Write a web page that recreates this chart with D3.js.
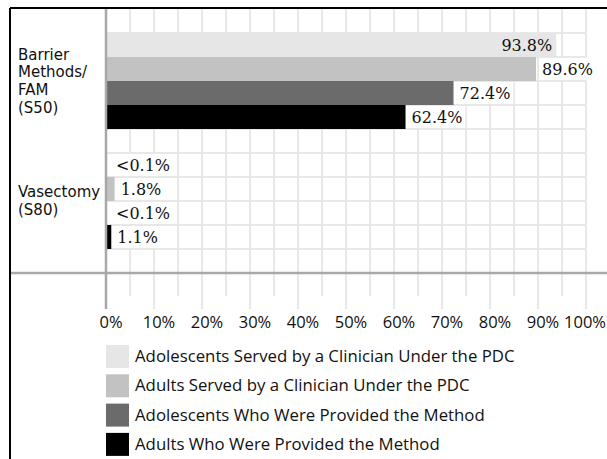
<!DOCTYPE html>
<html>
<head>
<meta charset="utf-8">
<script src="https://cdn.jsdelivr.net/npm/d3@7/dist/d3.min.js"></script>
<style>
  body { margin: 0; background: #fff; }
  svg { display: block; }
  .cat { font-family: "DejaVu Sans", sans-serif; font-size: 15px; fill: #111; }
  .tick-label { font-family: "Open Sans", Lato, sans-serif; font-size: 16.5px; fill: #111; }
  .legend-label { font-family: "Open Sans", Lato, sans-serif; font-size: 16.8px; fill: #111; }
  .val { font-family: "DejaVu Serif", serif; font-size: 16px; fill: #111; }
</style>
</head>
<body>
<div id="chart"></div>
<script>
// categories (top to bottom) and their display lines
var categories = ["Barrier Methods/FAM (S50)", "Vasectomy (S80)"];
var categoryLines = [["Barrier", "Methods/", "FAM", "(S50)"], ["Vasectomy", "(S80)"]];

// series, in the order drawn inside each category
var seriesNames = [
  "Adolescents Served by a Clinician Under the PDC",
  "Adults Served by a Clinician Under the PDC",
  "Adolescents Who Were Provided the Method",
  "Adults Who Were Provided the Method"
];
var seriesColors = ["#e6e6e6", "#c2c2c2", "#6b6b6b", "#000000"];

// values per category, one per series (percent)
var barrierValues = [93.8, 89.6, 72.4, 62.4];
var vasectomyValues = [0, 1.8, 0, 1.1];
var barrierLabels = ["93.8%", "89.6%", "72.4%", "62.4%"];
var vasectomyLabels = ["<0.1%", "1.8%", "<0.1%", "1.1%"];

var tickValues = [0, 10, 20, 30, 40, 50, 60, 70, 80, 90, 100];

var width = 607, height = 459;
var plot = {left: 106, right: 586, top: 9, bottom: 273};

var svg = d3.select("#chart").append("svg")
    .attr("width", width)
    .attr("height", height);

var x = d3.scaleLinear().domain([0, 100]).range([plot.left, plot.right]);

var y = d3.scaleBand()
    .domain(categories)
    .range([plot.top, plot.bottom])
    .paddingInner(0.2)
    .paddingOuter(0.2);

var ySub = d3.scaleBand()
    .domain(d3.range(seriesNames.length))
    .range([0, y.bandwidth()]);

var rowH = ySub.bandwidth();

var rows = [
  {cat: categories[0], lines: categoryLines[0], values: barrierValues, labels: barrierLabels},
  {cat: categories[1], lines: categoryLines[1], values: vasectomyValues, labels: vasectomyLabels}
];

// grid: vertical lines every 5%
var gridG = svg.append("g");
d3.range(5, 101, 5).forEach(function(v) {
  var major = v % 10 === 0;
  gridG.append("line")
      .attr("x1", x(v)).attr("x2", x(v))
      .attr("y1", plot.top).attr("y2", major ? 309 : 296)
      .attr("stroke", "#e8e8e8").attr("stroke-width", 2);
});
// horizontal grid lines on each row boundary
var nRows = Math.round((plot.bottom - plot.top) / rowH);
d3.range(1, nRows).forEach(function(k) {
  var yy = plot.top + k * rowH;
  gridG.append("line")
      .attr("x1", plot.left).attr("x2", plot.right + 1)
      .attr("y1", yy).attr("y2", yy)
      .attr("stroke", "#e8e8e8").attr("stroke-width", 2);
});

// bars
rows.forEach(function(r) {
  var g = svg.append("g").attr("transform", "translate(0," + y(r.cat) + ")");
  g.selectAll("rect")
      .data(r.values)
    .enter().append("rect")
      .attr("x", x(0))
      .attr("y", function(d, i) { return ySub(i); })
      .attr("width", function(d) { return x(d) - x(0); })
      .attr("height", rowH)
      .attr("fill", function(d, i) { return seriesColors[i]; });

  // value labels with white boxes; inside the bar when there is no room
  r.values.forEach(function(d, i) {
    var cy = ySub(i) + rowH / 2;
    var t = g.append("text")
        .attr("class", "val")
        .attr("y", cy)
        .attr("dy", "0.35em")
        .text(r.labels[i]);
    var w = t.node().getComputedTextLength();
    var end = x(d);
    if (end + 6 + w > width - 2) {
      t.attr("x", end - 4).attr("text-anchor", "end");
    } else {
      var tx = end + (d < 1 ? 10 : 6);
      g.insert("rect", "text")
          .attr("x", tx - 3).attr("y", ySub(i) + 1)
          .attr("width", w + 6).attr("height", rowH - 2)
          .attr("fill", "#fff");
      t.attr("x", tx);
    }
  });

  // category label
  var lineH = 17.6;
  var cat = svg.append("text")
      .attr("class", "cat")
      .attr("x", 18)
      .attr("y", y(r.cat) + y.bandwidth() / 2 - (r.lines.length - 1) * lineH / 2);
  r.lines.forEach(function(l, j) {
    cat.append("tspan")
        .attr("x", 18)
        .attr("dy", j === 0 ? "0.35em" : lineH)
        .text(l);
  });
});

// axis lines
svg.append("line")
    .attr("x1", x(0)).attr("x2", x(0))
    .attr("y1", plot.top).attr("y2", 309)
    .attr("stroke", "#a8a8a8").attr("stroke-width", 2.5);
svg.append("line")
    .attr("x1", 10).attr("x2", width)
    .attr("y1", plot.bottom).attr("y2", plot.bottom)
    .attr("stroke", "#a8a8a8").attr("stroke-width", 2.5);

// tick labels
svg.append("g").selectAll("text")
    .data(tickValues)
  .enter().append("text")
    .attr("class", "tick-label")
    .attr("x", function(d) { return d === 100 ? 606 : x(d) + 5; })
    .attr("y", 328)
    .attr("text-anchor", function(d) { return d === 100 ? "end" : "middle"; })
    .text(function(d) { return d + "%"; });

// legend
var legend = svg.append("g");
seriesNames.forEach(function(name, i) {
  var ly = 345 + i * 29.3;
  legend.append("rect")
      .attr("x", 106).attr("y", ly)
      .attr("width", 23).attr("height", 23)
      .attr("fill", seriesColors[i]);
  legend.append("text")
      .attr("class", "legend-label")
      .attr("x", 135)
      .attr("y", ly + 17)
      .text(name);
});

// outer frame (top and left)
svg.append("line")
    .attr("x1", 10).attr("x2", width)
    .attr("y1", 8).attr("y2", 8)
    .attr("stroke", "#000").attr("stroke-width", 2);
svg.append("line")
    .attr("x1", 10).attr("x2", 10)
    .attr("y1", 8).attr("y2", height)
    .attr("stroke", "#000").attr("stroke-width", 2);
</script>
</body>
</html>
